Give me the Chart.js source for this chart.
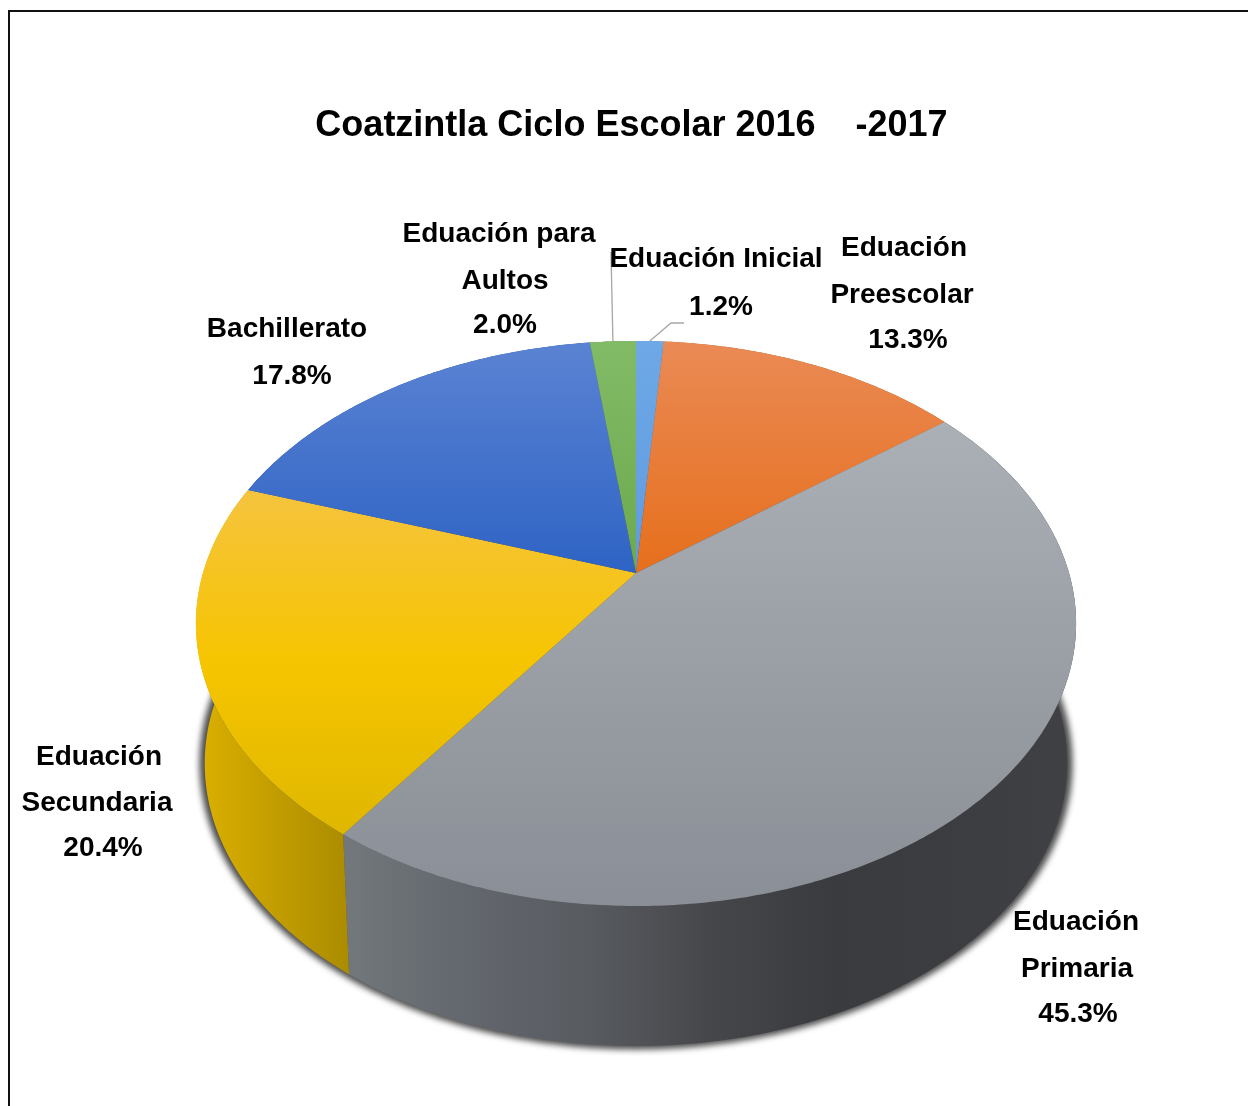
<!DOCTYPE html>
<html>
<head>
<meta charset="utf-8">
<title>Coatzintla Ciclo Escolar 2016-2017</title>
<script src="https://cdn.jsdelivr.net/npm/chart.js@4"></script>
<style>
  html, body { margin: 0; padding: 0; background: #fff; }
  #marco { position: absolute; left: 8px; top: 10px; width: 1240px; height: 1096px; border-left: 2px solid #111; border-top: 2px solid #111; box-sizing: border-box; }
  #grafica { position: absolute; left: 0; top: 0; }
</style>
</head>
<body>
<div id="marco"></div>
<canvas id="grafica" width="1248" height="1106"></canvas>
<script>
// Datos del grafico
var tituloGrafica = "Coatzintla Ciclo Escolar 2016    -2017";
var categorias = [
  ["Eduación Inicial"],
  ["Eduación", "Preescolar"],
  ["Eduación", "Primaria"],
  ["Eduación", "Secundaria"],
  ["Bachillerato"],
  ["Eduación para", "Aultos"],
];
var valores = [1.2, 13.3, 45.3, 20.4, 17.8, 2.0];

// Colores: cara superior (degradado vertical) y pared lateral (degradado horizontal)
var coloresCara = [
  ["#6ea8e6", "#5e9be0"],
  ["#ea8a55", "#e66f1c"],
  ["#aab0b5", "#8a8e96"],
  ["#f5c33e", "#f6c500", "#dfb700"],
  ["#5b83d3", "#2e63c4"],
  ["#82bb66", "#6ca94d"],
];
var coloresPared = [
  ["#3f6fa8", "#3f6fa8"],
  ["#a8541a", "#a8541a"],
  ["#72787b", "#63676e", "#585b60", "#46474b", "#3a3b3f", "#3c3d41", "#404145"],
  ["#dcb000", "#ab8c00"],
  ["#24508f", "#24508f"],
  ["#4f7f39", "#4f7f39"],
];

// Posicion de cada linea de texto de las etiquetas (nombre y porcentaje)
var posEtiquetas = [
  [[716, 259], [721, 307]],
  [[904, 248], [902, 295], [908, 340]],
  [[1076, 922], [1077, 969], [1078, 1014]],
  [[99, 757], [97, 803], [103, 848]],
  [[287, 329], [292, 376]],
  [[499, 234], [505, 281], [505, 325]],
];

// Lineas guia: indice de la rebanada y puntos despues del borde
var lineasGuia = [
  { i: 0, puntos: [[671, 323], [684, 323]] },
  { i: 5, puntos: [[611, 252]] },
];

// Proyeccion en perspectiva del disco
var pie = { cx: 636, cy: 573, rx: 433, ry: 273.5, k: 0.1787, alto: 140, escalaBase: 0.98 };

function proyectar(t, abajo) {
  var den = 1 + pie.k * Math.cos(t);
  var x = pie.rx * Math.sin(t) / den;
  var y = -pie.ry * Math.cos(t) / den;
  if (abajo) {
    return [pie.cx + x * pie.escalaBase, pie.cy + y + pie.alto];
  }
  return [pie.cx + x, pie.cy + y];
}

function puntosArco(a0, a1, abajo) {
  var pts = [];
  var n = Math.max(2, Math.ceil((a1 - a0) / 0.01));
  for (var j = 0; j <= n; j++) {
    pts.push(proyectar(a0 + (a1 - a0) * j / n, abajo));
  }
  return pts;
}

function trazar(ctx, pts) {
  ctx.beginPath();
  pts.forEach(function (p, j) {
    if (j == 0) ctx.moveTo(p[0], p[1]);
    else ctx.lineTo(p[0], p[1]);
  });
  ctx.closePath();
}

function degradado(ctx, x0, y0, x1, y1, stops) {
  var g = ctx.createLinearGradient(x0, y0, x1, y1);
  stops.forEach(function (c, j) {
    g.addColorStop(j / (stops.length - 1), c);
  });
  return g;
}

var pie3d = {
  id: "pie3d",
  beforeDatasetsDraw: function (chart) {
    var ctx = chart.ctx;
    var arcos = chart.getDatasetMeta(0).data;
    var angulos = arcos.map(function (a) {
      return [a.startAngle + Math.PI / 2, a.endAngle + Math.PI / 2];
    });

    // Sombra bajo la base
    ctx.save();
    ctx.filter = "blur(3px)";
    ctx.fillStyle = "#4a4a4a";
    ctx.translate(pie.cx, pie.cy + pie.alto + 50);
    ctx.scale(1.012, 1.012);
    ctx.translate(-pie.cx, -(pie.cy + pie.alto + 50));
    trazar(ctx, puntosArco(0, Math.PI * 2, true));
    ctx.fill();
    ctx.restore();

    // Paredes
    angulos.forEach(function (a, i) {
      var arriba = puntosArco(a[0], a[1], false);
      var base = puntosArco(a[0], a[1], true).reverse();
      var pts = arriba.concat(base);
      var xs = pts.map(function (p) { return p[0]; });
      ctx.fillStyle = degradado(ctx, Math.min.apply(null, xs), 0, Math.max.apply(null, xs), 0, coloresPared[i]);
      trazar(ctx, pts);
      ctx.fill();
    });

    // Cara superior
    angulos.forEach(function (a, i) {
      var pts = [[pie.cx, pie.cy]].concat(puntosArco(a[0], a[1], false));
      var ys = pts.map(function (p) { return p[1]; });
      ctx.fillStyle = degradado(ctx, 0, Math.min.apply(null, ys), 0, Math.max.apply(null, ys), coloresCara[i]);
      trazar(ctx, pts);
      ctx.fill();
    });

    // Lineas guia
    ctx.strokeStyle = "#a6a6a6";
    ctx.lineWidth = 1.3;
    lineasGuia.forEach(function (g) {
      var a = angulos[g.i];
      var ini = proyectar((a[0] + a[1]) / 2, false);
      ctx.beginPath();
      ctx.moveTo(ini[0], ini[1]);
      g.puntos.forEach(function (p) { ctx.lineTo(p[0], p[1]); });
      ctx.stroke();
    });

    // Etiquetas
    ctx.fillStyle = "#000";
    ctx.font = "bold 28px 'Liberation Sans', Arial, sans-serif";
    ctx.textAlign = "center";
    ctx.textBaseline = "middle";
    categorias.forEach(function (nombre, i) {
      var lineas = nombre.concat([valores[i].toFixed(1) + "%"]);
      lineas.forEach(function (txt, j) {
        ctx.fillText(txt, posEtiquetas[i][j][0], posEtiquetas[i][j][1]);
      });
    });

    return false; // las rebanadas ya estan dibujadas
  },
};

new Chart(document.getElementById("grafica").getContext("2d"), {
  type: "pie",
  data: {
    labels: categorias,
    datasets: [{ data: valores }],
  },
  options: {
    responsive: false,
    animation: false,
    layout: { padding: { left: 15 } },
    plugins: {
      legend: { display: false },
      tooltip: { enabled: false },
      title: {
        display: true,
        text: tituloGrafica,
        color: "#000",
        font: { family: "'Liberation Sans', Arial, sans-serif", size: 36, weight: "bold" },
        padding: { top: 104, bottom: 10 },
      },
    },
  },
  plugins: [pie3d],
});
</script>
</body>
</html>
